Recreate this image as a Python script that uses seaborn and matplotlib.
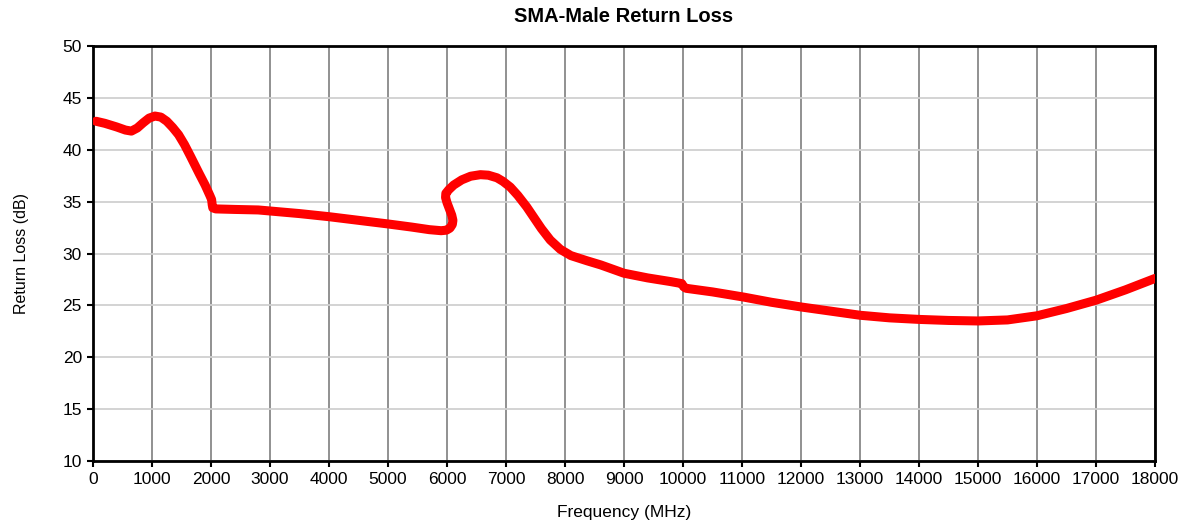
import matplotlib
matplotlib.use("Agg")
import matplotlib.pyplot as plt
import seaborn as sns
import pandas as pd

freq_mhz = [50, 200, 400, 550, 650, 750, 850, 950, 1050, 1150, 1250, 1350, 1450, 1550, 1650,
            1800, 1900, 1980, 2010, 2020, 2030, 2080, 2400, 2800, 3000, 3500, 4000, 4500,
            5000, 5400, 5700, 5900, 5990, 6050, 6090, 6100, 6080, 6040, 6000, 5975, 5980,
            6030, 6113, 6250, 6400, 6565, 6700, 6847, 6950, 7073, 7200, 7350, 7469, 7600,
            7750, 7921, 8100, 8373, 8606, 9000, 9400, 9785, 9980, 10010, 10050, 10500,
            11030, 11500, 12000, 12500, 13000, 13500, 14000, 14500, 15000, 15500, 16000,
            16500, 17000, 17500, 18000]
return_loss_db = [42.75, 42.55, 42.2, 41.9, 41.8, 42.1, 42.6, 43.05, 43.25, 43.15, 42.75,
                  42.15, 41.45, 40.5, 39.4, 37.7, 36.6, 35.6, 35.2, 34.7, 34.4, 34.3, 34.25,
                  34.2, 34.1, 33.85, 33.55, 33.2, 32.85, 32.55, 32.3, 32.2, 32.25, 32.45, 32.8,
                  33.2, 33.7, 34.3, 34.9, 35.4, 35.8, 36.15, 36.6, 37.1, 37.45, 37.6, 37.55,
                  37.3, 36.95, 36.4, 35.6, 34.5, 33.5, 32.4, 31.3, 30.4, 29.8, 29.3, 28.9,
                  28.1, 27.65, 27.3, 27.1, 26.8, 26.65, 26.3, 25.8, 25.3, 24.85, 24.45, 24.05,
                  23.8, 23.65, 23.55, 23.5, 23.6, 24.0, 24.7, 25.5, 26.5, 27.6]

x_ticks = list(range(0, 18001, 1000))
y_ticks = list(range(10, 51, 5))

df = pd.DataFrame({"freq": freq_mhz, "rl": return_loss_db})

sns.set_style("white")
plt.rcParams["font.family"] = ["Liberation Sans", "DejaVu Sans"]
plt.rcParams["text.color"] = "black"
plt.rcParams["axes.labelcolor"] = "black"

fig = plt.figure(figsize=(11.85, 5.23), dpi=100)
ax = fig.add_axes([0.0785, 0.1185, 0.8962, 0.7935])

sns.lineplot(data=df, x="freq", y="rl", sort=False, estimator=None, ax=ax,
             color="#ff0000", linewidth=6.5, solid_capstyle="round", solid_joinstyle="round",
             zorder=3)

ax.set_xlim(0, 18000)
ax.set_ylim(10, 50)
ax.set_xticks(x_ticks)
ax.set_yticks(y_ticks)
ax.set_xticklabels([str(t) for t in x_ticks])
ax.set_yticklabels([str(t) for t in y_ticks])

ax.xaxis.grid(True, color="#888888", linewidth=1.3)
ax.yaxis.grid(True, color="#d0d0d0", linewidth=1.3)
ax.set_axisbelow(True)

for s in ax.spines.values():
    s.set_color("black")
    s.set_linewidth(2)

ax.tick_params(axis="both", direction="out", length=4, width=1.5, color="black",
               labelsize=12.5, labelcolor="black", bottom=True, left=True, pad=4)

ax.set_xlabel("Frequency (MHz)", fontsize=12.5, labelpad=13, color="black")
ax.set_ylabel("Return Loss (dB)", fontsize=11.5, labelpad=24, color="black")
ax.set_title("SMA-Male Return Loss", fontsize=14.5, fontweight="bold", pad=17, color="black")

fig.savefig("out.png", dpi=100)
